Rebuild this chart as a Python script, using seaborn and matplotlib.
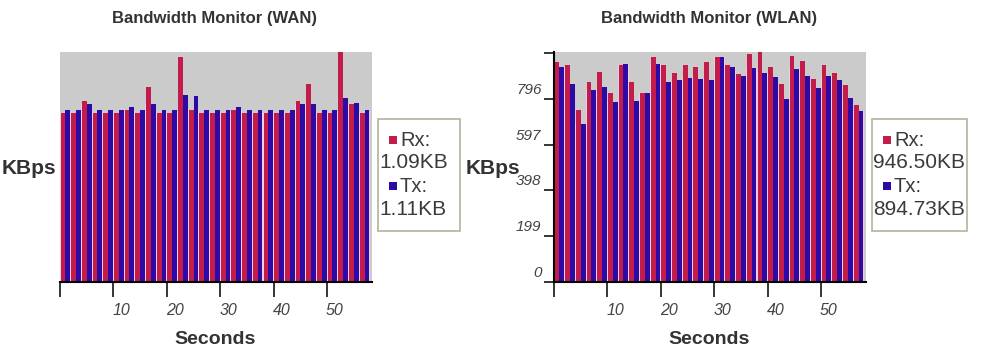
import pandas as pd
import matplotlib
matplotlib.use("Agg")
import matplotlib.pyplot as plt
import matplotlib.transforms as mtrans
import seaborn as sns
from matplotlib.patches import Rectangle

# sample times (s), one Rx/Tx pair every 2 seconds
seconds = [1, 3, 5, 7, 9, 11, 13, 15, 17, 19, 21, 23, 25, 27, 29,
           31, 33, 35, 37, 39, 41, 43, 45, 47, 49, 51, 53, 55, 57]

# WAN throughput (KBps)
wan_rx = [1.10, 1.10, 1.18, 1.10, 1.10, 1.10, 1.12, 1.10, 1.27, 1.10, 1.10, 1.47, 1.12, 1.10, 1.10,
          1.10, 1.12, 1.10, 1.10, 1.10, 1.10, 1.10, 1.18, 1.29, 1.10, 1.10, 1.50, 1.16, 1.10]
wan_tx = [1.12, 1.12, 1.16, 1.12, 1.12, 1.12, 1.14, 1.12, 1.16, 1.12, 1.12, 1.22, 1.21, 1.12, 1.12,
          1.12, 1.14, 1.12, 1.12, 1.12, 1.12, 1.12, 1.16, 1.16, 1.12, 1.12, 1.20, 1.17, 1.12]

# WLAN throughput (KBps)
wlan_rx = [955, 943, 748, 870, 915, 823, 943, 870, 821, 977, 943, 909, 943, 935, 955,
           977, 943, 903, 990, 1000, 935, 862, 982, 963, 883, 943, 909, 856, 769]
wlan_tx = [935, 862, 688, 836, 849, 782, 950, 789, 821, 950, 870, 877, 889, 883, 877,
           977, 935, 896, 930, 909, 890, 797, 924, 896, 843, 896, 877, 802, 742]

wan_totals = ["1.09KB", "1.11KB"]
wlan_totals = ["946.50KB", "894.73KB"]
x_ticks = [0, 10, 20, 30, 40, 50]
x_labels = ["", "10", "20", "30", "40", "50"]
wlan_yticks = [0, 199, 398, 597, 796, 995]
wlan_ylabels = ["0", "199", "398", "597", "796", ""]

RED = "#c41c4a"
BLUE = "#2d0aa5"
GAP = "#f0cfe6"
TXT = "#333333"

sns.set_style("white")
plt.rcParams["font.family"] = ["Liberation Sans", "DejaVu Sans"]

W, H = 981, 354
fig = plt.figure(figsize=(W / 100, H / 100), dpi=100)


def fx(px):
    return px / W


def fy(py):
    return 1 - py / H


def long_df(rx, tx):
    return pd.DataFrame({
        "sec": seconds + seconds,
        "val": rx + tx,
        "dir": ["Rx"] * len(rx) + ["Tx"] * len(tx),
    })


def panel(left_px, rx, tx, ymax, title, totals, label_px, show_y):
    ax = fig.add_axes([fx(left_px), fy(282), fx(312), 230 / H])
    # light strip showing between the pairs, up to the lower bar of each pair
    low = pd.DataFrame({"sec": seconds, "val": [min(a, b) for a, b in zip(rx, tx)]})
    sns.barplot(data=low, x="sec", y="val", native_scale=True, width=1.0,
                color=GAP, saturation=1, errorbar=None, linewidth=0, ax=ax)
    sns.barplot(data=long_df(rx, tx), x="sec", y="val", hue="dir",
                hue_order=["Rx", "Tx"], palette={"Rx": RED, "Tx": BLUE},
                native_scale=True, width=0.9, errorbar=None, legend=False,
                saturation=1, linewidth=0, ax=ax)
    ax.set_facecolor("#cbcbcb")
    ax.set_xlim(0, 58.4)
    ax.set_ylim(0, ymax)
    ax.set_xlabel("")
    ax.set_ylabel("")
    for s in ["top", "right"]:
        ax.spines[s].set_visible(False)
    ax.spines["bottom"].set_color("black")
    ax.spines["bottom"].set_linewidth(1.5)
    ax.spines["bottom"].set_zorder(5)
    ax.set_xticks(x_ticks)
    ax.set_xticklabels(x_labels, fontstyle="italic", fontsize=11.5, color="#444444", ha="left")
    ax.tick_params(axis="x", direction="out", length=11, width=1.1, color="black", pad=4, bottom=True)
    shift_x = mtrans.ScaledTranslation(-1 / 100, 0, fig.dpi_scale_trans)
    for lab in ax.get_xticklabels():
        lab.set_transform(lab.get_transform() + shift_x)
    if show_y:
        ax.spines["left"].set_color("black")
        ax.spines["left"].set_linewidth(1.5)
        ax.set_yticks(wlan_yticks)
        ax.set_yticklabels(wlan_ylabels, fontstyle="italic", fontsize=11, color="#444444", va="bottom")
        ax.tick_params(axis="y", direction="out", length=7, width=1.1, color="black", pad=2, left=True)
        shift_y = mtrans.ScaledTranslation(0, 2 / 100, fig.dpi_scale_trans)
        for lab in ax.get_yticklabels():
            lab.set_transform(lab.get_transform() + shift_y)
    else:
        ax.spines["left"].set_visible(False)
        ax.set_yticks([])

    cx = left_px + 155
    fig.text(fx(cx), fy(18), title, ha="center", va="center", fontsize=12,
             fontweight="bold", color=TXT)
    fig.text(fx(cx), fy(340), "Seconds", ha="center", va="center", fontsize=14,
             fontweight="bold", color=TXT)
    fig.text(fx(label_px), fy(168), "KBps", ha="left", va="center", fontsize=15,
             fontweight="bold", color=TXT)

    # value box at the right of the plot
    bx = left_px + 318
    bw = 82 if not show_y else 95
    fig.patches.append(Rectangle((fx(bx), fy(231)), fx(bw), 112 / H, transform=fig.transFigure,
                                 facecolor="white", edgecolor="#b5b29a", linewidth=1.2))
    for i, (name, col) in enumerate([("Rx:", RED), ("Tx:", BLUE)]):
        yy = 140 + 46 * i
        fig.patches.append(Rectangle((fx(bx + 11), fy(yy + 4)), fx(8), 8 / H,
                                     transform=fig.transFigure, facecolor=col, edgecolor="none"))
        fig.text(fx(bx + 22), fy(yy), name, ha="left", va="center", fontsize=14.5, color="#3a3a3a")
        fig.text(fx(bx + 1), fy(yy + 23), totals[i], ha="left", va="center", fontsize=15, color="#3a3a3a")
    return ax


panel(60, wan_rx, wan_tx, 1.5, "Bandwidth Monitor (WAN)", wan_totals, 2, False)
panel(554, wlan_rx, wlan_tx, 1000, "Bandwidth Monitor (WLAN)", wlan_totals, 466, True)

fig.savefig("out.png", dpi=100, facecolor="white")
